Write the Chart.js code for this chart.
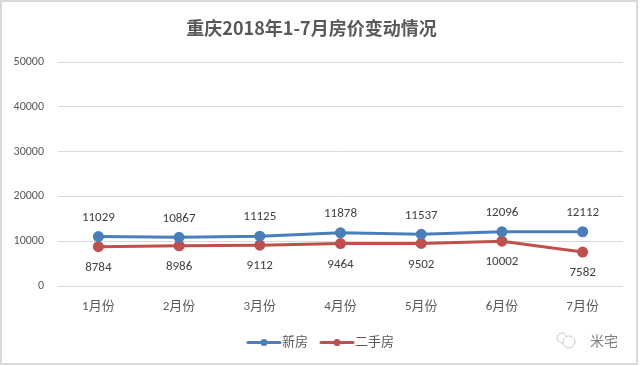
<!DOCTYPE html>
<html>
<head>
<meta charset="utf-8">
<script src="https://cdn.jsdelivr.net/npm/chart.js@4"></script>
<style>
  html, body { margin: 0; padding: 0; background: #fff; }
  canvas { display: block; }
</style>
</head>
<body>
<canvas id="chart" width="640" height="366" style="width:640px;height:366px"></canvas>
<script>
const months = ["1月份", "2月份", "3月份", "4月份", "5月份", "6月份", "7月份"];
const newHouse = [11029, 10867, 11125, 11878, 11537, 12096, 12112];
const resale = [8784, 8986, 9112, 9464, 9502, 10002, 7582];
const seriesNames = ["新房", "二手房"];
const yTicks = [0, 10000, 20000, 30000, 40000, 50000];

const blue = "#4a7ebb";
const red = "#c0504d";
const fontFamily = "Calibri, Carlito, Lato, 'Noto Sans CJK SC', sans-serif";

// value labels, legend, watermark and frame
const extras = {
  id: "extras",
  afterDatasetsDraw(chart) {
    const c = chart.ctx;
    c.save();
    c.font = "13px " + fontFamily;
    c.fillStyle = "#404040";
    c.textAlign = "center";
    c.textBaseline = "middle";
    chart.data.datasets.forEach((ds, i) => {
      const meta = chart.getDatasetMeta(i);
      meta.data.forEach((pt, j) => {
        const dy = i === 0 ? -19 : 21;
        c.fillText(String(ds.data[j]), pt.x, pt.y + dy);
      });
    });
    c.restore();
  },
  afterDraw(chart) {
    const c = chart.ctx;
    c.save();
    // frame
    c.strokeStyle = "#d9d9d9";
    c.lineWidth = 2;
    c.strokeRect(1, 1, 636, 363);

    // legend
    const items = [
      { x: 248, color: blue, label: seriesNames[0] },
      { x: 321, color: red, label: seriesNames[1] }
    ];
    const ly = 342.5;
    items.forEach(it => {
      c.strokeStyle = it.color;
      c.lineWidth = 3;
      c.lineCap = "round";
      c.beginPath();
      c.moveTo(it.x, ly);
      c.lineTo(it.x + 32, ly);
      c.stroke();
      c.fillStyle = it.color;
      c.beginPath();
      c.arc(it.x + 16, ly, 3.5, 0, Math.PI * 2);
      c.fill();
      c.fillStyle = "#595959";
      c.font = "13px " + fontFamily;
      c.textAlign = "left";
      c.textBaseline = "middle";
      c.fillText(it.label, it.x + 34, ly);
    });

    // watermark: two bubbles + text
    c.strokeStyle = "#c8c8c8";
    c.lineWidth = 1;
    c.beginPath();
    c.arc(562, 338, 5, 0, Math.PI * 2);
    c.stroke();
    c.fillStyle = "#fff";
    c.beginPath();
    c.arc(569, 342, 6, 0, Math.PI * 2);
    c.fill();
    c.stroke();
    c.fillStyle = "#808080";
    c.font = "14px 'Noto Sans CJK SC', sans-serif";
    c.textAlign = "left";
    c.textBaseline = "middle";
    c.fillText("米宅", 590, 341);
    c.restore();
  }
};

const ctx = document.getElementById("chart").getContext("2d");
const chart = new Chart(ctx, {
  type: "line",
  data: {
    labels: months,
    datasets: [
      {
        label: seriesNames[0],
        data: newHouse,
        borderColor: blue,
        backgroundColor: blue,
        borderWidth: 3,
        pointRadius: 4,
        pointHoverRadius: 4,
        tension: 0
      },
      {
        label: seriesNames[1],
        data: resale,
        borderColor: red,
        backgroundColor: red,
        borderWidth: 3,
        pointRadius: 4,
        pointHoverRadius: 4,
        tension: 0
      }
    ]
  },
  options: {
    responsive: false,
    animation: false,
    layout: { padding: { left: 0, right: 17, top: 0, bottom: 28 } },
    plugins: {
      legend: { display: false },
      tooltip: { enabled: false },
      title: {
        display: true,
        text: "重庆2018年1-7月房价变动情况",
        color: "#595959",
        font: { family: "'Noto Sans CJK SC', sans-serif", size: 18, weight: "bold" },
        padding: { top: 17, bottom: 23.4 }
      }
    },
    scales: {
      x: {
        offset: true,
        grid: { display: false, drawTicks: false },
        border: { display: false },
        ticks: {
          color: "#595959",
          font: { family: fontFamily, size: 13 },
          padding: 13
        },
        afterFit(scale) { scale.height = 52; }
      },
      y: {
        min: 0,
        max: 50000,
        afterBuildTicks(scale) { scale.ticks = yTicks.map(v => ({ value: v })); },
        grid: { color: "#d9d9d9", lineWidth: 1, drawTicks: false },
        border: { display: false },
        ticks: {
          color: "#595959",
          font: { family: fontFamily, size: 12 },
          padding: 14,
          callback: v => String(v)
        },
        afterFit(scale) { scale.width = 58; }
      }
    }
  },
  plugins: [extras]
});
</script>
</body>
</html>
